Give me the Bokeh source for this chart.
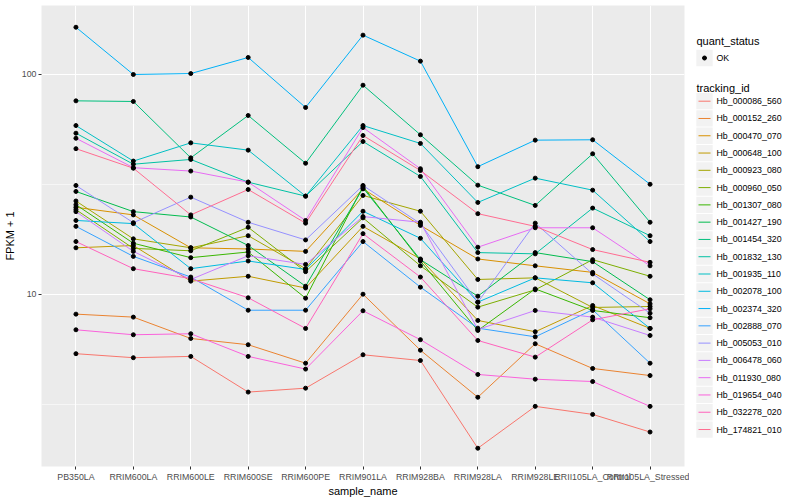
from bokeh.plotting import figure
from bokeh.models import Range1d, FactorRange, FixedTicker, NumeralTickFormatter
from bokeh.layouts import row
from bokeh.embed import file_html
from bokeh.resources import INLINE
from bokeh.core.properties import value

# ---------------- data ----------------
samples = ["PB350LA", "RRIM600LA", "RRIM600LE", "RRIM600SE", "RRIM600PE", "RRIM901LA",
           "RRIM928BA", "RRIM928LA", "RRIM928LE", "RRII105LA_Control", "RRII105LA_Stressed"]

tracking_ids = ["Hb_000086_560", "Hb_000152_260", "Hb_000470_070", "Hb_000648_100",
                "Hb_000923_080", "Hb_000960_050", "Hb_001307_080", "Hb_001427_190",
                "Hb_001454_320", "Hb_001832_130", "Hb_001935_110", "Hb_002078_100",
                "Hb_002374_320", "Hb_002888_070", "Hb_005053_010", "Hb_006478_060",
                "Hb_011930_080", "Hb_019654_040", "Hb_032278_020", "Hb_174821_010"]

hb_000086_560 = [5.38, 5.16, 5.23, 3.60, 3.75, 5.32, 5.01, 2.00, 3.10, 2.85, 2.37]
hb_000152_260 = [8.14, 7.89, 6.31, 5.91, 4.87, 10.03, 5.58, 3.41, 5.97, 4.61, 4.28]
hb_000470_070 = [24.9, 23.0, 16.3, 16.1, 15.7, 30.2, 20.6, 14.5, 13.5, 12.6, 9.07]
hb_000648_100 = [16.3, 16.7, 11.5, 12.1, 10.7, 20.4, 14.5, 7.62, 6.77, 8.91, 7.01]
hb_000923_080 = [26.6, 17.9, 16.3, 18.5, 13.1, 28.2, 23.9, 11.7, 11.9, 8.73, 8.82]
hb_000960_050 = [24.3, 16.2, 15.8, 20.2, 12.7, 22.3, 13.5, 8.76, 10.5, 14.4, 12.1]
hb_001307_080 = [25.6, 17.1, 14.7, 15.6, 9.62, 31.0, 14.2, 6.86, 10.6, 8.46, 7.84]
hb_001427_190 = [29.4, 23.8, 22.5, 16.7, 10.9, 30.5, 14.4, 9.82, 15.5, 14.1, 9.46]
hb_001454_320 = [75.9, 75.4, 41.8, 65.1, 39.5, 89.4, 53.2, 31.4, 25.4, 43.6, 21.3]
hb_001832_130 = [54.1, 39.1, 41.1, 32.4, 28.0, 49.6, 34.4, 15.5, 15.3, 24.7, 18.5]
hb_001935_110 = [58.6, 40.4, 48.9, 45.3, 28.0, 58.6, 48.6, 26.2, 33.8, 29.8, 17.4]
hb_002078_100 = [21.7, 21.0, 13.1, 14.2, 13.0, 23.9, 18.0, 9.23, 11.9, 11.3, 7.01]
hb_002374_320 = [164.0, 100.0, 101.0, 119.5, 70.8, 151.0, 115.0, 38.1, 50.3, 50.5, 31.7]
hb_002888_070 = [20.4, 14.9, 12.0, 8.48, 8.48, 17.4, 10.8, 7.03, 6.42, 8.52, 4.87]
hb_005053_010 = [31.3, 21.2, 27.7, 21.3, 17.7, 31.3, 21.0, 9.23, 21.1, 12.4, 8.22]
hb_006478_060 = [23.8, 15.7, 11.7, 15.0, 13.7, 22.6, 21.3, 6.93, 8.46, 7.89, 6.51]
hb_011930_080 = [51.3, 37.7, 36.4, 32.4, 21.7, 57.4, 37.3, 16.4, 20.1, 20.1, 13.5]
hb_019654_040 = [6.91, 6.56, 6.63, 5.23, 4.58, 8.43, 6.23, 4.33, 4.12, 4.02, 3.10]
hb_032278_020 = [17.4, 13.1, 11.8, 9.66, 7.01, 18.9, 12.0, 6.18, 5.19, 7.67, 8.61]
hb_174821_010 = [46.0, 37.5, 23.0, 30.0, 21.1, 52.8, 36.6, 23.3, 20.4, 16.0, 14.0]

series = [hb_000086_560, hb_000152_260, hb_000470_070, hb_000648_100, hb_000923_080,
          hb_000960_050, hb_001307_080, hb_001427_190, hb_001454_320, hb_001832_130,
          hb_001935_110, hb_002078_100, hb_002374_320, hb_002888_070, hb_005053_010,
          hb_006478_060, hb_011930_080, hb_019654_040, hb_032278_020, hb_174821_010]

quant_status = ["OK"]
y_ticks = [10, 100]

# ---------------- style ----------------
colors = ["#F8766D", "#EA8331", "#D89000", "#C09B00", "#A3A500", "#7CAE00", "#39B600",
          "#00BB4E", "#00BF7D", "#00C1A3", "#00BFC4", "#00BAE0", "#00B0F6", "#35A2FF",
          "#9590FF", "#C77CFF", "#E76BF3", "#FA62DB", "#FF62BC", "#FF6C91"]
FONT = "Liberation Sans"
TOP = 5
FRAME_H = 461

p = figure(frame_width=643, frame_height=FRAME_H,
           x_range=FactorRange(factors=samples, range_padding=0.2 / 11,
                               range_padding_units="percent"),
           y_axis_type="log", y_range=Range1d(1.652, 205.9),
           output_backend="svg", toolbar_location=None,
           min_border_left=32, min_border_right=5, min_border_top=TOP, min_border_bottom=0)
p.background_fill_color = "#EBEBEB"
p.border_fill_color = "white"
p.outline_line_color = None

# grid
p.xgrid.grid_line_color = "white"
p.xgrid.grid_line_width = 1.1
p.ygrid.ticker = FixedTicker(ticks=y_ticks, minor_ticks=[10 ** 0.5, 10 ** 1.5])
p.ygrid.grid_line_color = "white"
p.ygrid.grid_line_width = 1.1
p.ygrid.minor_grid_line_color = "white"
p.ygrid.minor_grid_line_width = 0.55

# axes
p.yaxis.ticker = FixedTicker(ticks=y_ticks)
p.yaxis.formatter = NumeralTickFormatter(format="0")
for ax in (p.xaxis[0], p.yaxis[0]):
    ax.axis_line_color = None
    ax.major_tick_line_color = "#333333"
    ax.major_tick_out = 3
    ax.major_tick_in = 0
    ax.minor_tick_line_color = None
    ax.major_label_text_font = FONT
    ax.major_label_text_font_size = "8.8px"
    ax.major_label_text_color = "#4D4D4D"
    ax.axis_label_text_font = FONT
    ax.axis_label_text_font_size = "11px"
    ax.axis_label_text_font_style = "normal"
    ax.axis_label_text_color = "black"
p.xaxis.axis_label = "sample_name"
p.yaxis.axis_label = "FPKM + 1"
p.xaxis.major_label_standoff = 2
p.xaxis.axis_label_standoff = 0
p.yaxis.major_label_standoff = 2
p.yaxis.axis_label_standoff = 3
p.xaxis.major_label_orientation = "horizontal"

for vals, col in zip(series, colors):
    p.line(samples, vals, line_color=col, line_width=1.0)
for vals in series:
    p.scatter(samples, vals, size=4, color="black", marker="circle")

# ---------------- legend panel (page pixel coordinates) ----------------
lg = figure(frame_width=100, frame_height=FRAME_H,
            x_range=Range1d(690, 790), y_range=Range1d(TOP + FRAME_H, TOP),
            output_backend="svg", toolbar_location=None,
            min_border_left=0, min_border_right=0, min_border_top=TOP, min_border_bottom=0)
lg.axis.visible = False
lg.grid.visible = False
lg.outline_line_color = None
lg.background_fill_color = "white"
lg.border_fill_color = "white"

key_x = 705.0
key_w = 16.3
step = 17.28
lg.text([697], [40], text=["quant_status"], text_font=value(FONT), text_font_size="11px",
        text_baseline="middle", text_align="left", text_color="black")
lg.rect([key_x], [57.5], width=key_w, height=key_w, fill_color="#F2F2F2", line_color=None)
lg.scatter([key_x], [57.5], size=4, color="black", marker="circle")
lg.text([717], [57.5], text=quant_status, text_font=value(FONT), text_font_size="8.8px",
        text_baseline="middle", text_align="left", text_color="black")

lg.text([697], [87], text=["tracking_id"], text_font=value(FONT), text_font_size="11px",
        text_baseline="middle", text_align="left", text_color="black")
ys = [100.7 + step * i for i in range(len(tracking_ids))]
lg.rect([key_x] * len(ys), ys, width=key_w, height=step - 1, fill_color="#F2F2F2", line_color=None)
lg.segment([699] * len(ys), ys, [711] * len(ys), ys, line_color=colors, line_width=1.0)
lg.text([717] * len(ys), ys, text=tracking_ids, text_font=value(FONT), text_font_size="8.8px",
        text_baseline="middle", text_align="left", text_color="black")

layout = row(p, lg, spacing=0)
open("out.html", "w").write(file_html(layout, INLINE))
